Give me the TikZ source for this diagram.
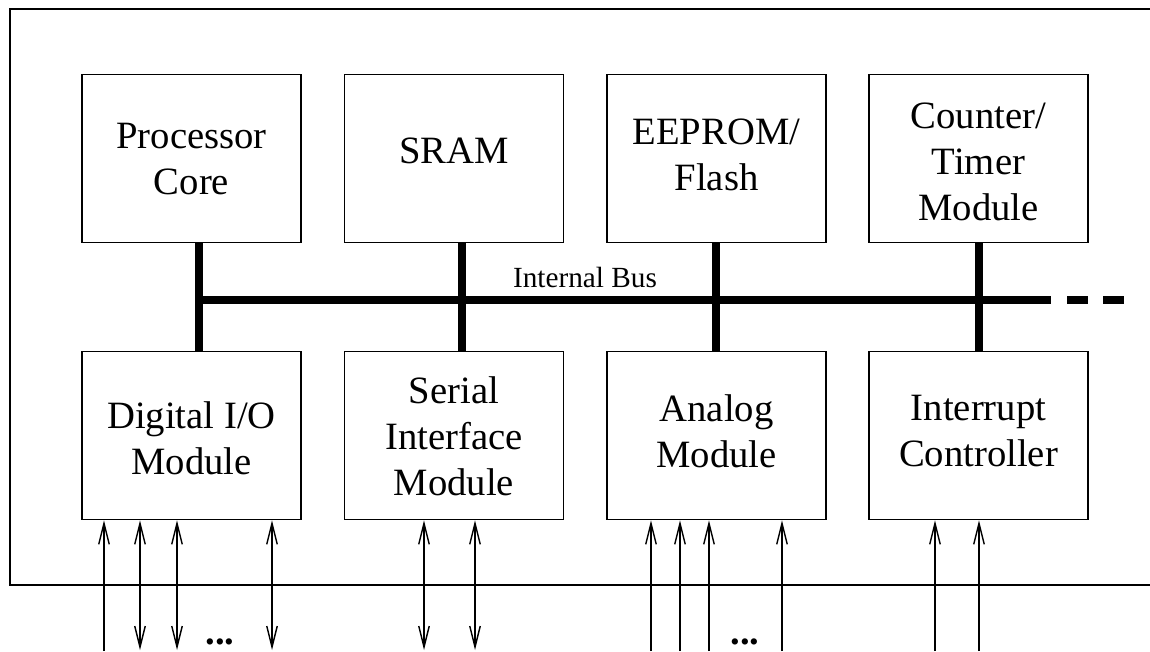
\documentclass[tikz,border=0pt]{standalone}
\usepackage{fontspec}
\setmainfont{Liberation Serif}
\usetikzlibrary{arrows.meta}
\tikzset{
  sigtip/.tip={Straight Barb[length=15pt, width=7.5pt, line width=1pt]}
}
\begin{document}
\begin{tikzpicture}[x=0.025cm,y=-0.025cm,
  box/.style={draw, line width=1.2pt, minimum width=5.475cm, minimum height=4.2cm, inner sep=0pt, align=center,
    font=\fontsize{27.5}{32.7}\selectfont},
  txt/.style={align=center, inner sep=0pt, font=\fontsize{27.5}{32.7}\selectfont},
  bus/.style={line width=5.2pt},
  frame/.style={line width=1.2pt},
  sig/.style={line width=0.9pt},
  up/.style={sig, -sigtip},
  both/.style={sig, sigtip-sigtip},
  buslabel/.style={font=\fontsize{20.8}{24}\selectfont},
  dots/.style={font=\fontsize{27.5}{32}\selectfont\bfseries}]
\useasboundingbox (0,0) rectangle (1150,651);
\draw[frame] (1150,9) -- (10,9) -- (10,585) -- (1150,585);
% top row
\node[box] (pc)   at (191.5,158.5) {};
\node[box] (sram) at (454,158.5) {};
\node[box] (eep)  at (716.5,158.5) {};
\node[box] (ctm)  at (978.5,158.5) {};
% bottom row
\node[box] (dio)  at (191.5,435.5) {};
\node[box] (sim)  at (454,435.5) {};
\node[box] (ana)  at (716.5,435.5) {};
\node[box] (ic)   at (978.5,435.5) {};
% texts
\node[txt] (tpc)   at (191.5,159.5) {Processor\\Core};
\node[txt] (tsram) at (454,151) {SRAM};
\node[txt] (teep)  at (716.5,155) {EEPROM/\\Flash};
\node[txt] (tctm)  at (978.5,162) {Counter/\\Timer\\Module};
\node[txt] (tdio)  at (191.5,438.5) {Digital I/O\\Module};
\node[txt] (tsim)  at (454,436) {Serial\\Interface\\Module};
\node[txt] (tana)  at (716.5,431.5) {Analog\\Module};
\node[txt] (tic)   at (978.5,431.5) {Interrupt\\Controller};
% bus
\coordinate (j1) at (199,300);
\coordinate (j2) at (462,300);
\coordinate (j3) at (716,300);
\coordinate (j4) at (979,300);
\coordinate (be) at (1051,300);
\coordinate (d1a) at (1067,300);
\coordinate (d1b) at (1088,300);
\coordinate (d2a) at (1103,300);
\coordinate (d2b) at (1124,300);
\draw[bus] (pc.south -| j1) -- (dio.north -| j1);
\draw[bus] (sram.south -| j2) -- (sim.north -| j2);
\draw[bus] (eep.south -| j3) -- (ana.north -| j3);
\draw[bus] (ctm.south -| j4) -- (ic.north -| j4);
\draw[bus] (j1) -- (be);
\draw[bus] (d1a) -- (d1b);
\draw[bus] (d2a) -- (d2b);
\node[buslabel] (bl) at (585,277) {Internal Bus};
% signal lines
\coordinate (a1) at (104,651);
\coordinate (a2) at (140,650);
\coordinate (a3) at (177,650);
\coordinate (a4) at (272,650);
\coordinate (s1) at (424,650);
\coordinate (s2) at (475,650);
\coordinate (n1) at (651,651);
\coordinate (n2) at (680,651);
\coordinate (n3) at (709,651);
\coordinate (n4) at (782,651);
\coordinate (i1) at (935,651);
\coordinate (i2) at (979,651);
\draw[up] (a1) -- (dio.south -| a1);
\draw[both] (a2) -- (dio.south -| a2);
\draw[both] (a3) -- (dio.south -| a3);
\draw[both] (a4) -- (dio.south -| a4);
\draw[both] (s1) -- (sim.south -| s1);
\draw[both] (s2) -- (sim.south -| s2);
\draw[up] (n1) -- (ana.south -| n1);
\draw[up] (n2) -- (ana.south -| n2);
\draw[up] (n3) -- (ana.south -| n3);
\draw[up] (n4) -- (ana.south -| n4);
\draw[up] (i1) -- (ic.south -| i1);
\draw[up] (i2) -- (ic.south -| i2);
\node[dots, anchor=base] (dd1) at (220,644) {...};
\node[dots, anchor=base] (dd2) at (745,644) {...};
\end{tikzpicture}
\end{document}
